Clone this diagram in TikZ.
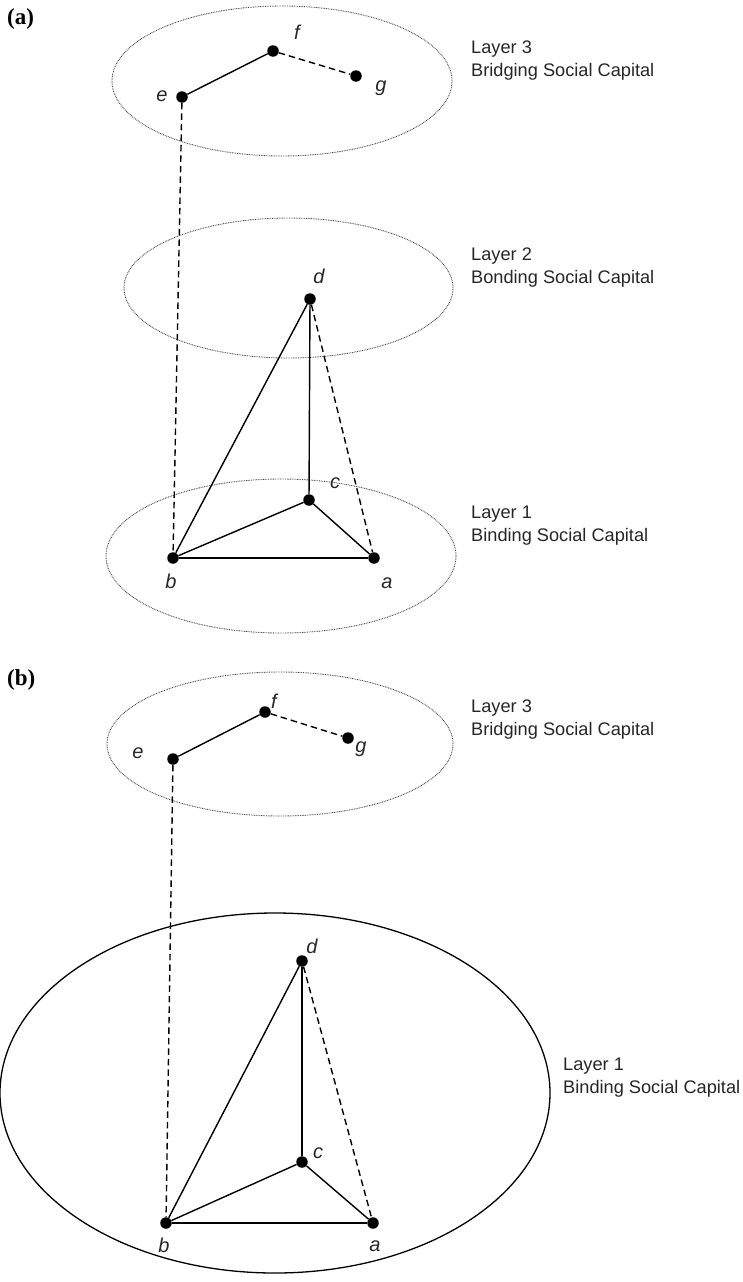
\documentclass[tikz,border=0pt]{standalone}
\usepackage{fontspec}
\setmainfont{Liberation Sans}
\newfontfamily\labelserif{Liberation Serif}
\begin{document}
\begin{tikzpicture}[x=1pt,y=-1pt,
  vtx/.style={circle,fill=black,inner sep=0pt,minimum size=11.5pt},
  lbl/.style={anchor=base,font=\fontsize{20}{24}\selectfont\itshape,inner sep=0pt,text=black!85},
  layertxt/.style={anchor=base west,align=left,inner sep=0pt,font=\fontsize{18.2}{23}\selectfont,text=black!85},
  panel/.style={anchor=base west,inner sep=0pt,font=\fontsize{23}{26}\selectfont\labelserif\bfseries},
  layerring/.style={draw=black!75,line width=0.9pt,dash pattern=on 0.8pt off 0.9pt},
  edge/.style={line width=1.4pt},
  weak/.style={line width=1.4pt,dash pattern=on 6.5pt off 4pt}]
\useasboundingbox (0,0) rectangle (743,1282);

% ---------------- panel (a) ----------------
\node[panel] (pa) at (7,24) {(a)};
\draw[layerring] (282,81) ellipse [x radius=170pt,y radius=75pt];
\draw[layerring] (288.5,288) ellipse [x radius=164.5pt,y radius=70pt];
\draw[layerring] (281,556) ellipse [x radius=175pt,y radius=77pt];

\node[vtx] (ea) at (182,97) {};
\node[vtx] (fa) at (273,51) {};
\node[vtx] (ga) at (356,76) {};
\node[vtx] (da) at (310,299) {};
\node[vtx] (ca) at (309,500) {};
\node[vtx] (ba) at (173,558) {};
\node[vtx] (aa) at (374,558) {};

\node[lbl] (lea) at (162,101) {e};
\node[lbl] (lfa) at (297,39) {f};
\node[lbl] (lga) at (381,91) {g};
\node[lbl] (lda) at (319,283) {d};
\node[lbl] (lca) at (335,488) {c};
\node[lbl] (lba) at (171,588) {b};
\node[lbl] (laa) at (387,588) {a};

\draw[edge] (ea) -- (fa);
\draw[weak] (fa) -- (ga);
\draw[weak] (ea) -- (ba);
\draw[edge] (da) -- (ba);
\draw[edge] (da) -- (ca);
\draw[weak] (da) -- (aa);
\draw[edge] (ca) -- (ba);
\draw[edge] (ca) -- (aa);
\draw[edge] (ba) -- (aa);

\node[layertxt] (t3a) at (471,76) {Layer 3\\Bridging Social Capital};
\node[layertxt] (t2a) at (471,283) {Layer 2\\Bonding Social Capital};
\node[layertxt] (t1a) at (471,541) {Layer 1\\Binding Social Capital};

% ---------------- panel (b) ----------------
\node[panel] (pb) at (7,685) {(b)};
\draw[layerring] (280,744) ellipse [x radius=173pt,y radius=72pt];
\draw[line width=1.3pt] (275,1093) ellipse [x radius=275pt,y radius=180pt];

\node[vtx] (eb) at (173,759) {};
\node[vtx] (fb) at (265,712) {};
\node[vtx] (gb) at (348,738) {};
\node[vtx] (db) at (302,961) {};
\node[vtx] (cb) at (302,1162) {};
\node[vtx] (bb) at (166,1223) {};
\node[vtx] (ab) at (373,1223) {};

\node[lbl] (leb) at (138,758) {e};
\node[lbl] (lfb) at (274,708) {f};
\node[lbl] (lgb) at (361,752) {g};
\node[lbl] (ldb) at (312,953) {d};
\node[lbl] (lcb) at (318,1158) {c};
\node[lbl] (lbb) at (164,1252) {b};
\node[lbl] (lab) at (375,1251) {a};

\draw[edge] (eb) -- (fb);
\draw[weak] (fb) -- (gb);
\draw[weak] (eb) -- (bb);
\draw[edge] (db) -- (bb);
\draw[edge] (db) -- (cb);
\draw[weak] (db) -- (ab);
\draw[edge] (cb) -- (bb);
\draw[edge] (cb) -- (ab);
\draw[edge] (bb) -- (ab);

\node[layertxt] (t3b) at (471,735) {Layer 3\\Bridging Social Capital};
\node[layertxt] (t1b) at (563,1093) {Layer 1\\Binding Social Capital};
\end{tikzpicture}
\end{document}
